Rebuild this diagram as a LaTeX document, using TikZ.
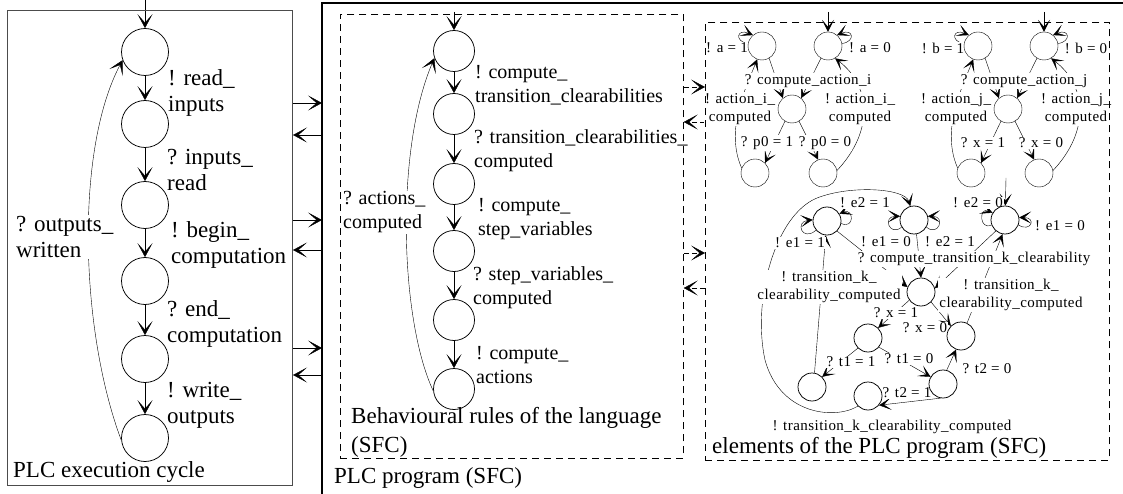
\documentclass[tikz,border=0pt]{standalone}
\usepackage{fontspec}
\setmainfont{Liberation Serif}
\newfontfamily\trk[LetterSpace=3]{Liberation Serif}
\usetikzlibrary{arrows.meta}
\pgfdeclarelayer{edges}
\pgfdeclarelayer{labels}
\pgfsetlayers{edges,labels,main}

\newcommand\actgrp[5]{%
\begin{scope}[shift={(#2,0)}]
 \node[smc] (#1A1) at (762,46) {};
 \node[smc] (#1A0) at (828,46) {};
 \node[smc] (#1Ac) at (792,109) {};
 \node[smc] (#1P1) at (755,173) {};
 \node[smc] (#1P0) at (823,173) {};
 \coordinate (#1in) at (828,12);
 \begin{pgfonlayer}{edges}
  \draw[sarr] (#1in) -- (#1A0);
  \draw[sarr] (#1A1.170) .. controls +(-14,-2) and +(-16,-7) .. (#1A1.130);
  \draw[sarr] (#1A0.10) .. controls +(14,-2) and +(16,-7) .. (#1A0.50);
  \draw[sarr] (#1A1.300) -- (#1Ac.130);
  \draw[sarr] (#1A0.240) -- (#1Ac.50);
  \draw[sarr] (#1Ac.240) -- (#1P1.45);
  \draw[sarr] (#1Ac.300) -- (#1P0.110);
  \draw[sarr] (#1P1.160) .. controls (725,130) and (745,90) .. (#1A1.250);
  \draw[sarr] (#1P0.10) .. controls (875,130) and (870,85) .. (#1A0.300);
 \end{pgfonlayer}
 \begin{pgfonlayer}{labels}
  \node[slbl] (#1la1) at (727,48) {! #3 = 1};
  \node[slbl] (#1la0) at (870,48) {! #3 = 0};
  \node[slbl] (#1lc) at (808,81) {? compute\_action\_#4};
  \node[slbl] (#1ll) at (740,109) {! action\_#4\_\\computed};
  \node[slbl] (#1lr) at (860,109) {! action\_#4\_\\computed};
  \node[slbl] (#1lp1) at (767,143) {? #5 = 1};
  \node[slbl] (#1lp0) at (825,143) {? #5 = 0};
 \end{pgfonlayer}
\end{scope}}

\begin{document}
\begin{tikzpicture}[x=1pt,y=-1pt,line width=0.75pt,
 arr/.style={-{Stealth[length=14pt,width=15pt,inset=8.5pt]}},
 sarr/.style={-{Stealth[length=12pt,width=12pt,inset=7pt]}},
 bigc/.style={circle,draw,minimum size=47pt,inner sep=0pt},
 midc/.style={circle,draw,minimum size=41pt,inner sep=0pt},
 smc/.style={circle,draw,minimum size=28pt,inner sep=0pt},
 llbl/.style={font=\fontsize{23}{26}\selectfont,align=left,anchor=west,inner sep=1pt,fill=white},
 mlbl/.style={font=\fontsize{20}{24}\selectfont,align=left,anchor=west,inner sep=1pt,fill=white},
 ttl/.style={font=\fontsize{23}{29}\selectfont,align=left,anchor=west,inner sep=1pt,fill=white},
 slbl/.style={font=\trk\fontsize{15}{18}\selectfont,align=center,inner sep=1pt,fill=white},
 dbox/.style={draw,dash pattern=on 7pt off 5pt,anchor=north west,inner sep=0pt},
 darr/.style={-{Stealth[length=14pt,width=15pt,inset=8.5pt]},dash pattern=on 5pt off 3pt},
]
\useasboundingbox (0,0) rectangle (1123,494);

% ---------- boxes ----------
\node[draw=black!70,line width=1pt,anchor=north west,minimum width=285pt,minimum height=475pt,inner sep=0pt] (cyc) at (7,10) {};
\coordinate (pgl) at (322,494);
\coordinate (pgc) at (322,3);
\coordinate (pgr) at (1123,3);
\draw[line width=1.5pt] (pgl) -- (pgc) -- (pgr);
\node[dbox,minimum width=343pt,minimum height=444pt] (rules) at (340,14) {};
\node[dbox,minimum width=404pt,minimum height=438pt] (elem) at (705,22) {};

% ---------- PLC execution cycle ----------
\node[bigc] (L1) at (145,52) {};
\node[bigc] (L2) at (145,124) {};
\node[bigc] (L3) at (145,205) {};
\node[bigc] (L4) at (145,281) {};
\node[bigc] (L5) at (145,359) {};
\node[bigc] (L6) at (145,438) {};
\coordinate (Lin) at (145,0);

% ---------- behavioural rules ----------
\node[midc] (R1) at (454,51) {};
\node[midc] (R2) at (454,114) {};
\node[midc] (R3) at (454,184) {};
\node[midc] (R4) at (454,251) {};
\node[midc] (R5) at (454,320) {};
\node[midc] (R6) at (454,389) {};
\coordinate (Rin) at (454,12);

% ---------- transition k ----------
\node[smc] (kE1) at (827,221) {};
\node[smc] (kM) at (914,220) {};
\node[smc] (kE0) at (1005,220) {};
\node[smc] (kK) at (921,292) {};
\node[smc] (kX1) at (868,338) {};
\node[smc] (kX0) at (961,336) {};
\node[smc] (kT1) at (812,387) {};
\node[smc] (kT2l) at (868,396) {};
\node[smc] (kT2r) at (943,384) {};
\coordinate (kin) at (1006,178);

\begin{pgfonlayer}{edges}
 \draw[arr] (Lin) -- (L1);
 \draw[arr] (L1) -- (L2);
 \draw[arr] (L2) -- (L3);
 \draw[arr] (L3) -- (L4);
 \draw[arr] (L4) -- (L5);
 \draw[arr] (L5) -- (L6);
 \draw[arr] (L6.185) .. controls (80,330) and (75,150) .. (L1.200);

 \draw[arr] (Rin) -- (R1);
 \draw[arr] (R1) -- (R2);
 \draw[arr] (R2) -- (R3);
 \draw[arr] (R3) -- (R4);
 \draw[arr] (R4) -- (R5);
 \draw[arr] (R5) -- (R6);
 \draw[arr] (R6.185) .. controls (400,320) and (395,150) .. (R1.200);

 % between boxes
 \draw[arr] (cyc.east |- 0,103) -- (pgc |- 0,103);
 \draw[arr] (pgc |- 0,135) -- (cyc.east |- 0,135);
 \draw[arr] (cyc.east |- 0,220) -- (pgc |- 0,220);
 \draw[arr] (pgc |- 0,250) -- (cyc.east |- 0,250);
 \draw[arr] (cyc.east |- 0,348) -- (pgc |- 0,348);
 \draw[arr] (pgc |- 0,375) -- (cyc.east |- 0,375);

 \draw[darr] (rules.east |- 0,87) -- (elem.west |- 0,87);
 \draw[darr] (elem.west |- 0,122) -- (rules.east |- 0,122);
 \draw[darr] (rules.east |- 0,253) -- (elem.west |- 0,253);
 \draw[darr] (elem.west |- 0,288) -- (rules.east |- 0,288);

 % transition k
 \draw[sarr] (kin) -- (kE0);
 \draw[sarr] (kE1.220) .. controls +(-14,12) and +(-18,2) .. (kE1.175);
 \draw[sarr] (kE1.350) .. controls +(14,6) and +(14,-6) .. (kE1.30);
 \draw[sarr] (kM.210) .. controls +(-12,10) and +(-18,0) .. (kM.165);
 \draw[sarr] (kM.330) .. controls +(12,10) and +(18,0) .. (kM.15);
 \draw[sarr] (kE0.200) .. controls +(-12,6) and +(-14,-6) .. (kE0.150);
 \draw[sarr] (kE0.340) .. controls +(12,8) and +(18,0) .. (kE0.10);
 \draw[sarr] (kE1.315) -- (kK.160);
 \draw[sarr] (kM.280) -- (kK.north);
 \draw[sarr] (kE0.230) -- (kK.15);
 \draw[sarr] (kK.215) -- (kX1.45);
 \draw[sarr] (kK.315) -- (kX0.135);
 \draw[sarr] (kX1.225) -- (kT1.45);
 \draw[sarr] (kX1.320) -- (kT2r.150);
 \draw[sarr] (kT2r.75) -- (kX0.250);
 \draw[sarr] (kT2r.260) -- (kT2l.320);
 \draw[sarr] (kT1.80) -- (kE1.265);
 \draw[sarr] (kX0.65) -- (kE0.260);
 \draw[sarr] (kT2l.225) .. controls (835,420) and (780,415) .. (765,360)
   .. controls (752,300) and (775,215) .. (817,198)
   .. controls (850,185) and (905,188) .. (kM.105);
\end{pgfonlayer}

\actgrp{i}{0}{a}{i}{p0}
\actgrp{j}{216}{b}{j}{x}

\begin{pgfonlayer}{labels}
 \node[llbl] (t1) at (167,92.5) {! read\_\\inputs};
 \node[llbl] (t2) at (166,170) {? inputs\_\\read};
 \node[llbl] (t3) at (170,245) {! begin\_\\computation};
 \node[llbl] (t4) at (166,324) {? end\_\\computation};
 \node[llbl] (t5) at (166,405) {! write\_\\outputs};
 \node[llbl] (t6) at (15,237) {? outputs\_\\written};

 \node[mlbl] (u1) at (474,85.5) {! compute\_\\transition\_clearabilities};
 \node[mlbl] (u2) at (473,150.5) {? transition\_clearabilities\_\\computed};
 \node[mlbl] (u3) at (477,219) {! compute\_\\step\_variables};
 \node[mlbl] (u4) at (472,287.5) {? step\_variables\_\\computed};
 \node[mlbl] (u5) at (475,365) {! compute\_\\actions};
 \node[mlbl] (u6) at (342,212.5) {? actions\_\\computed};

 \node[ttl] (h1) at (12,472) {PLC execution cycle};
 \node[ttl] (h2) at (333,478) {PLC program (SFC)};
 \node[ttl] (h3) at (350,432.5) {Behavioural rules of the language\\(SFC)};
 \node[ttl] (h4) at (711,448) {elements of the PLC program (SFC)};

 \node[slbl] (k1) at (865,203) {! e2 = 1};
 \node[slbl] (k2) at (978,203) {! e2 = 0};
 \node[slbl] (k3) at (800,243) {! e1 = 1};
 \node[slbl] (k4) at (886,242) {! e1 = 0};
 \node[slbl] (k5) at (950,242) {! e2 = 1};
 \node[slbl] (k6) at (1060,226) {! e1 = 0};
 \node[slbl] (k7) at (974,259) {? compute\_transition\_k\_clearability};
 \node[slbl] (k8) at (829,287) {! transition\_k\_\\clearability\_computed};
 \node[slbl] (k9) at (1011,295) {! transition\_k\_\\clearability\_computed};
 \node[slbl] (k10) at (896,313) {? x = 1};
 \node[slbl] (k11) at (925,328) {? x = 0};
 \node[slbl] (k12) at (851,362) {? t1 = 1};
 \node[slbl] (k13) at (909,359) {? t1 = 0};
 \node[slbl] (k14) at (987,369) {? t2 = 0};
 \node[slbl] (k15) at (907,393) {? t2 = 1};
 \node[slbl] (k16) at (892,427) {! transition\_k\_clearability\_computed};
\end{pgfonlayer}
\end{tikzpicture}
\end{document}
